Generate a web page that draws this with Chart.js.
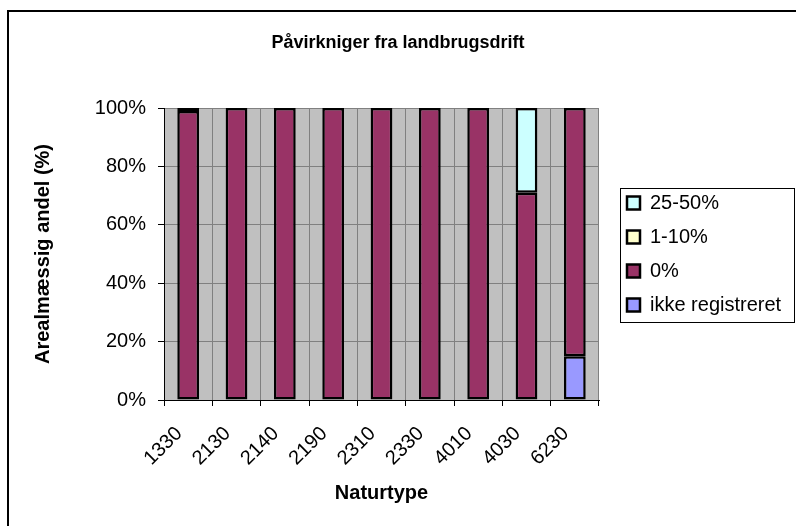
<!DOCTYPE html>
<html>
<head>
<meta charset="utf-8">
<script src="https://cdn.jsdelivr.net/npm/chart.js@4/dist/chart.umd.min.js"></script>
<style>
  html, body { margin: 0; padding: 0; background: #fff; }
  #wrap { width: 796px; height: 526px; }
</style>
</head>
<body>
<div id="wrap"><canvas id="grafico" width="796" height="526"></canvas></div>
<script>
// dados do gráfico
const naturtyper = ['1330', '2130', '2140', '2190', '2310', '2330', '4010', '4030', '6230'];
const ikkeRegistreret = [0, 0, 0, 0, 0, 0, 0, 0, 15];
const nulPct = [99, 100, 100, 100, 100, 100, 100, 71, 85];
const enTilTiPct = [1, 0, 0, 0, 0, 0, 0, 0, 0];
const tyveFemTilFemtiPct = [0, 0, 0, 0, 0, 0, 0, 29, 0];
const yTicks = [0, 20, 40, 60, 80, 100];

const fonte = '"Liberation Sans", Arial, sans-serif';

// fundo cinza da área do gráfico, moldura e caixa da legenda
const decoracao = {
    id: 'decoracao',
    beforeUpdate(chart) {
        const lg = chart.legend;
        if (lg && !lg._fixo) {
            const fitOrig = lg.fit;
            lg.fit = function () {
                fitOrig.call(this);
                this.width = 197;
            };
            lg._fixo = true;
        }
    },
    afterUpdate(chart) {
        const lg = chart.legend;
        if (lg) {
            lg.left += 14;
            lg.right += 14;
        }
    },
    beforeDraw(chart) {
        const ctx = chart.ctx;
        const a = chart.chartArea;
        ctx.save();
        ctx.fillStyle = '#fff';
        ctx.fillRect(0, 0, chart.width, chart.height);
        // moldura externa
        ctx.strokeStyle = '#000';
        ctx.lineWidth = 2;
        ctx.beginPath();
        ctx.moveTo(8, chart.height + 5);
        ctx.lineTo(8, 11);
        ctx.lineTo(chart.width + 5, 11);
        ctx.stroke();
        // fundo cinza
        ctx.fillStyle = '#C0C0C0';
        ctx.fillRect(a.left, a.top, a.right - a.left, a.bottom - a.top);
        ctx.restore();
    },
    afterDraw(chart) {
        const ctx = chart.ctx;
        ctx.save();
        ctx.strokeStyle = '#000';
        ctx.lineWidth = 1;
        ctx.strokeRect(620.5, 188.5, 174, 134);
        ctx.restore();
    }
};

const ctx = document.getElementById('grafico').getContext('2d');

window.grafico = new Chart(ctx, {
    type: 'bar',
    data: {
        labels: naturtyper,
        datasets: [
            {
                label: 'ikke registreret',
                data: ikkeRegistreret,
                backgroundColor: '#9999FF'
            },
            {
                label: '0%',
                data: nulPct,
                backgroundColor: '#993366'
            },
            {
                label: '1-10%',
                data: enTilTiPct,
                backgroundColor: '#FFFFCC'
            },
            {
                label: '25-50%',
                data: tyveFemTilFemtiPct,
                backgroundColor: '#CCFFFF'
            }
        ]
    },
    options: {
        responsive: false,
        animation: false,
        layout: { padding: 0 },
        datasets: {
            bar: {
                borderColor: '#000',
                borderWidth: 2.5,
                borderSkipped: false,
                barPercentage: 0.45,
                categoryPercentage: 1
            }
        },
        plugins: {
            tooltip: { enabled: false },
            title: {
                display: true,
                text: 'Påvirkniger fra landbrugsdrift',
                color: '#000',
                font: { family: fonte, size: 18, weight: 'bold' },
                padding: { top: 32, bottom: 54.4 }
            },
            legend: {
                display: true,
                position: 'right',
                fullSize: false,
                reverse: true,
                labels: {
                    color: '#000',
                    boxWidth: 13,
                    boxHeight: 13,
                    padding: 14,
                    font: { family: fonte, size: 20 }
                }
            }
        },
        scales: {
            x: {
                stacked: true,
                afterFit(scale) { scale.height = 126; },
                grid: {
                    color: '#808080',
                    tickColor: '#000',
                    tickLength: 6,
                    offset: true
                },
                border: { color: '#000', width: 1 },
                ticks: {
                    color: '#000',
                    minRotation: 45,
                    maxRotation: 45,
                    padding: 16,
                    labelOffset: -9,
                    font: { family: fonte, size: 20 }
                },
                title: {
                    display: true,
                    text: 'Naturtype',
                    color: '#000',
                    font: { family: fonte, size: 20, weight: 'bold' },
                    padding: { top: 4, bottom: 21 }
                }
            },
            y: {
                stacked: true,
                min: 0,
                max: 100,
                afterFit(scale) { scale.width = 164; },
                afterBuildTicks(scale) {
                    scale.ticks = yTicks.map(v => ({ value: v }));
                },
                grid: {
                    color: '#808080',
                    tickColor: '#000',
                    tickLength: 6
                },
                border: { color: '#000', width: 1 },
                ticks: {
                    color: '#000',
                    padding: 12,
                    font: { family: fonte, size: 20 },
                    callback: v => v + '%'
                },
                title: {
                    display: true,
                    text: 'Arealmæssig andel (%)',
                    color: '#000',
                    font: { family: fonte, size: 20, weight: 'bold' },
                    padding: { top: 31, bottom: 0 }
                }
            }
        }
    },
    plugins: [decoracao]
});
</script>
</body>
</html>
